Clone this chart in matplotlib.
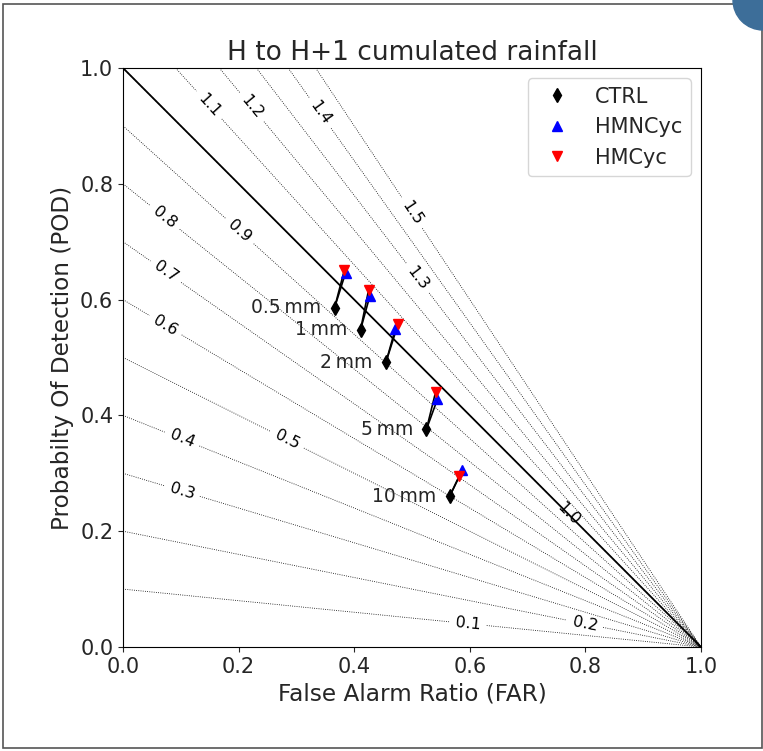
import numpy as np
import matplotlib
matplotlib.use('Agg')
import matplotlib.pyplot as plt
from matplotlib.patches import Rectangle, Ellipse

# thresholds and scores
thresholds = ['0.5', '1', '2', '5', '10']
ctrl_far = [0.366, 0.411, 0.455, 0.525, 0.565]
ctrl_pod = [0.586, 0.548, 0.492, 0.376, 0.260]
hmncyc_far = [0.385, 0.427, 0.471, 0.544, 0.587]
hmncyc_pod = [0.646, 0.606, 0.549, 0.428, 0.305]
hmcyc_far = [0.383, 0.425, 0.476, 0.541, 0.582]
hmcyc_pod = [0.651, 0.617, 0.558, 0.441, 0.296]

bias_levels = [0.1, 0.2, 0.3, 0.4, 0.5, 0.6, 0.7, 0.8, 0.9, 1.0,
               1.1, 1.2, 1.3, 1.4, 1.5]
# where the bias labels sit (FAR, POD)
bias_label_pos = [(0.597, 0.040), (0.799, 0.040), (0.102, 0.269), (0.102, 0.359),
                  (0.284, 0.358), (0.074, 0.556), (0.074, 0.648), (0.073, 0.742),
                  (0.202, 0.718), (0.770, 0.230), (0.149, 0.936), (0.223, 0.932),
                  (0.510, 0.637), (0.341, 0.922), (0.500, 0.750)]

txt = '.15'
plt.rcParams['text.color'] = txt
plt.rcParams['axes.labelcolor'] = txt
plt.rcParams['xtick.color'] = txt
plt.rcParams['ytick.color'] = txt

fig = plt.figure(figsize=(7.63, 7.51), dpi=100)
ax = fig.add_axes([123 / 763, 1 - 647 / 751, 578 / 763, 579 / 751])

far = np.linspace(0, 0.9999, 600)
pod = np.linspace(0, 1, 600)
FAR, POD = np.meshgrid(far, pod)
bias = POD / (1 - FAR)
cs = ax.contour(FAR, POD, bias, levels=bias_levels, colors='k',
                linestyles=':', linewidths=0.6)
ax.plot([0, 1], [1, 0], color='k', lw=1.3)
ax.clabel(cs, fmt='%.1f', fontsize=11.5, inline=True, inline_spacing=6,
          manual=bias_label_pos)

for i in range(len(thresholds)):
    ax.plot([ctrl_far[i], hmncyc_far[i]], [ctrl_pod[i], hmncyc_pod[i]],
            color='k', lw=1.2, zorder=3)
    ax.plot([ctrl_far[i], hmcyc_far[i]], [ctrl_pod[i], hmcyc_pod[i]],
            color='k', lw=1.2, zorder=3)
    ax.annotate(thresholds[i] + '\u2009mm', (ctrl_far[i], ctrl_pod[i]),
                xytext=(-9.5, 0), textcoords='offset points',
                ha='right', va='center', fontsize=13.5)

ax.plot(ctrl_far, ctrl_pod, 'd', color='k', ms=7, ls='none', label='CTRL', zorder=4)
ax.plot(hmncyc_far, hmncyc_pod, '^', color='b', ms=7, ls='none', label='HMNCyc', zorder=4)
ax.plot(hmcyc_far, hmcyc_pod, 'v', color='r', ms=7, ls='none', label='HMCyc', zorder=5)

ax.set_xlim(0, 1)
ax.set_ylim(0, 1)
ax.set_xticks(np.arange(0, 1.01, 0.2))
ax.set_yticks(np.arange(0, 1.01, 0.2))
ax.tick_params(labelsize=15)
ax.set_xlabel('False Alarm Ratio (FAR)', fontsize=16.7)
ax.set_ylabel('Probabilty Of Detection (POD)', fontsize=16.7)
ax.set_title('H to H+1 cumulated rainfall', fontsize=19)
ax.legend(loc='upper right', fontsize=15, numpoints=1)

# screenshot frame and corner badge
fig.patches.append(Rectangle((3.3 / 763, 3 / 751), 758.4 / 763, 744 / 751,
                             transform=fig.transFigure, fill=False,
                             edgecolor='#555555', lw=1.2))
fig.patches.append(Ellipse((1.0, 1.0), 60 / 763, 60 / 751,
                           transform=fig.transFigure, color='#3d6e99'))

fig.savefig('out.png', dpi=100)
